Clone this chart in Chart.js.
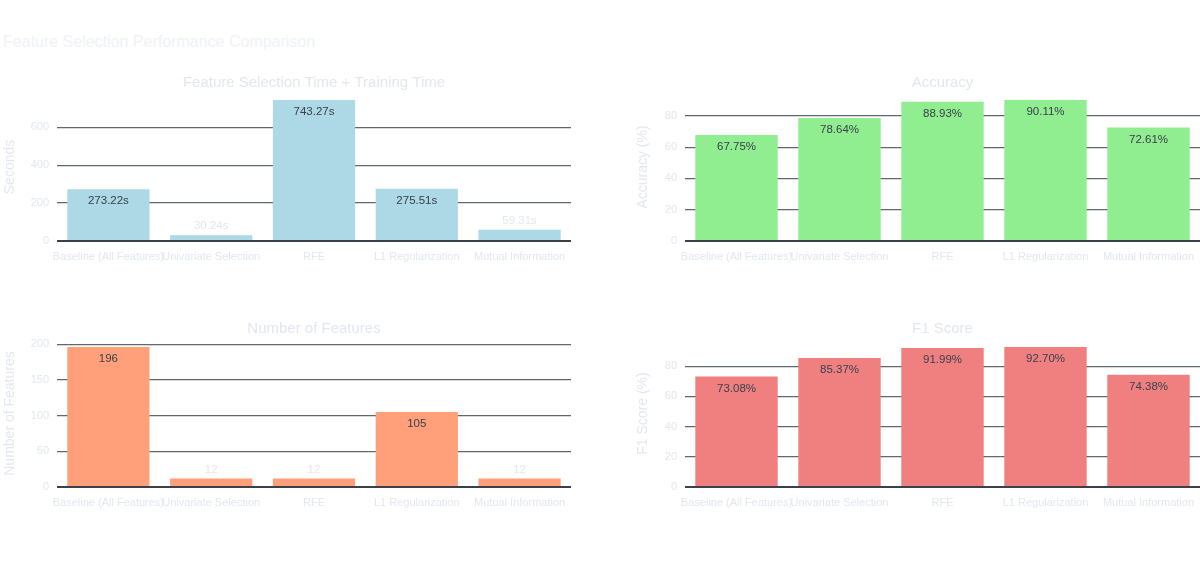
<!DOCTYPE html>
<html>
<head>
<meta charset="utf-8">
<script src="https://cdn.jsdelivr.net/npm/chart.js@4.4.0/dist/chart.umd.min.js"></script>
<style>
  body { margin: 0; background: #fff; width: 1200px; height: 562px; position: relative; overflow: hidden; }
  #mainTitle { position: absolute; left: 3px; top: 33px; font: 16px "Liberation Sans", Arial, sans-serif; color: #f0f2f8; white-space: nowrap; }
  .panel { position: absolute; }
</style>
</head>
<body>
<div id="mainTitle">Feature Selection Performance Comparison</div>
<div class="panel" style="left:0;top:60px"><canvas id="timeChart" width="600" height="220"></canvas></div>
<div class="panel" style="left:620px;top:60px"><canvas id="accChart" width="580" height="220"></canvas></div>
<div class="panel" style="left:0;top:306px"><canvas id="featChart" width="600" height="220"></canvas></div>
<div class="panel" style="left:620px;top:306px"><canvas id="f1Chart" width="580" height="220"></canvas></div>

<script>
const methods = ["Baseline (All Features)", "Univariate Selection", "RFE", "L1 Regularization", "Mutual Information"]
const totalTime = [273.22, 30.24, 743.27, 275.51, 59.31]
const accuracy = [67.75, 78.64, 88.93, 90.11, 72.61]
const numFeatures = [196, 12, 12, 105, 12]
const f1Score = [73.08, 85.37, 91.99, 92.70, 74.38]

// marcas del eje y de cada panel
const timeTicks = [0, 200, 400, 600]
const pctTicks = [0, 20, 40, 60, 80]
const featTicks = [0, 50, 100, 150, 200]

const FONT = '"Liberation Sans", Arial, sans-serif'
const faintText = "#e3e7f1"
const insideText = "#39414b"

// títulos de cada panel, centrados sobre el área del gráfico
const panelTitle = {
  id: "panelTitle",
  afterDraw(chart, args, opts) {
    const { ctx, chartArea } = chart
    ctx.save()
    ctx.font = "15px " + FONT
    ctx.fillStyle = faintText
    ctx.textAlign = "center"
    ctx.textBaseline = "middle"
    ctx.fillText(opts.text, (chartArea.left + chartArea.right) / 2, opts.y)
    ctx.restore()
  },
}

// etiquetas de valor: dentro de la barra si cabe, si no encima
const barLabels = {
  id: "barLabels",
  afterDatasetsDraw(chart, args, opts) {
    const { ctx } = chart
    const meta = chart.getDatasetMeta(0)
    const values = chart.data.datasets[0].data
    ctx.save()
    ctx.font = "11.5px " + FONT
    ctx.textAlign = "center"
    ctx.textBaseline = "middle"
    meta.data.forEach((bar, i) => {
      const text = opts.format(values[i])
      if (bar.base - bar.y > 22) {
        ctx.fillStyle = insideText
        ctx.fillText(text, bar.x, bar.y + 12)
      } else {
        ctx.fillStyle = faintText
        ctx.fillText(text, bar.x, bar.y - 9)
      }
    })
    ctx.restore()
  },
}

function makeChart(id, cfg) {
  const ctx = document.getElementById(id).getContext("2d")
  return new Chart(ctx, {
    type: "bar",
    data: {
      labels: methods,
      datasets: [
        {
          data: cfg.values,
          backgroundColor: cfg.color,
          borderWidth: 0,
          categoryPercentage: 0.8,
          barPercentage: 1.0,
        },
      ],
    },
    plugins: [panelTitle, barLabels],
    options: {
      responsive: false,
      animation: false,
      layout: { padding: { top: cfg.top, right: cfg.right, left: 0, bottom: 0 } },
      plugins: {
        legend: { display: false },
        tooltip: { enabled: false },
        title: { display: false },
        panelTitle: { text: cfg.title, y: 23 },
        barLabels: { format: cfg.format },
      },
      scales: {
        x: {
          offset: true,
          grid: { display: false, drawTicks: false },
          border: { display: false },
          ticks: {
            autoSkip: false,
            maxRotation: 0,
            minRotation: 0,
            padding: 9,
            color: faintText,
            font: { family: FONT, size: 11 },
          },
          afterFit: (scale) => {
            scale.height = 39
            scale.paddingLeft = 0
            scale.paddingRight = 0
          },
        },
        y: {
          min: 0,
          max: cfg.max,
          afterBuildTicks: (scale) => { scale.ticks = cfg.ticks.map((v) => ({ value: v })) },
          grid: {
            drawTicks: false,
            color: (c) => (c.tick && c.tick.value === 0 ? "#3b4049" : "#62666f"),
            lineWidth: (c) => (c.tick && c.tick.value === 0 ? 2 : 1.2),
          },
          border: { display: false },
          ticks: {
            padding: 8,
            color: faintText,
            font: { family: FONT, size: 11 },
          },
          title: {
            display: true,
            text: cfg.yTitle,
            color: faintText,
            font: { family: FONT, size: 14 },
            padding: { top: cfg.yTitlePad, bottom: 0 },
          },
          afterFit: (scale) => { scale.width = cfg.axisWidth },
        },
      },
    },
  })
}

makeChart("timeChart", {
  values: totalTime, color: "#add8e6", title: "Feature Selection Time + Training Time",
  yTitle: "Seconds", max: 780, ticks: timeTicks, top: 33, right: 29, axisWidth: 57, yTitlePad: 2,
  format: (v) => v.toFixed(2) + "s",
})
makeChart("accChart", {
  values: accuracy, color: "#90ee90", title: "Accuracy",
  yTitle: "Accuracy (%)", max: 94.6, ticks: pctTicks, top: 33, right: 0, axisWidth: 65, yTitlePad: 15,
  format: (v) => v.toFixed(2) + "%",
})
makeChart("featChart", {
  values: numFeatures, color: "#ffa07a", title: "Number of Features",
  yTitle: "Number of Features", max: 205.8, ticks: featTicks, top: 34, right: 29, axisWidth: 57, yTitlePad: 2,
  format: (v) => String(v),
})
makeChart("f1Chart", {
  values: f1Score, color: "#f08080", title: "F1 Score",
  yTitle: "F1 Score (%)", max: 97.3, ticks: pctTicks, top: 34, right: 0, axisWidth: 65, yTitlePad: 15,
  format: (v) => v.toFixed(2) + "%",
})
</script>
</body>
</html>
